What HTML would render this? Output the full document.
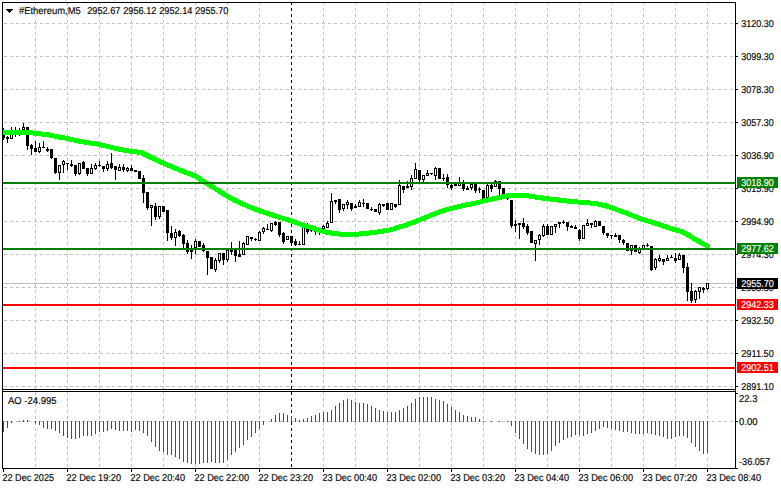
<!DOCTYPE html>
<html><head><meta charset="utf-8"><title>#Ethereum,M5</title>
<style>
html,body{margin:0;padding:0;background:#fff;}
body{width:781px;height:489px;overflow:hidden;position:relative;font-family:"Liberation Sans",sans-serif;}
</style></head><body>
<svg width="781" height="489" viewBox="0 0 781 489" style="position:absolute;left:0;top:0;display:block">
<g shape-rendering="crispEdges">
<line x1="4" y1="23.5" x2="735" y2="23.5" stroke="#c0c0c0" stroke-width="1" stroke-dasharray="3 3"/>
<line x1="4" y1="56.5" x2="735" y2="56.5" stroke="#c0c0c0" stroke-width="1" stroke-dasharray="3 3"/>
<line x1="4" y1="89.5" x2="735" y2="89.5" stroke="#c0c0c0" stroke-width="1" stroke-dasharray="3 3"/>
<line x1="4" y1="122.5" x2="735" y2="122.5" stroke="#c0c0c0" stroke-width="1" stroke-dasharray="3 3"/>
<line x1="4" y1="155.5" x2="735" y2="155.5" stroke="#c0c0c0" stroke-width="1" stroke-dasharray="3 3"/>
<line x1="4" y1="188.5" x2="735" y2="188.5" stroke="#c0c0c0" stroke-width="1" stroke-dasharray="3 3"/>
<line x1="4" y1="221.5" x2="735" y2="221.5" stroke="#c0c0c0" stroke-width="1" stroke-dasharray="3 3"/>
<line x1="4" y1="254.5" x2="735" y2="254.5" stroke="#c0c0c0" stroke-width="1" stroke-dasharray="3 3"/>
<line x1="4" y1="287.5" x2="735" y2="287.5" stroke="#c0c0c0" stroke-width="1" stroke-dasharray="3 3"/>
<line x1="4" y1="320.5" x2="735" y2="320.5" stroke="#c0c0c0" stroke-width="1" stroke-dasharray="3 3"/>
<line x1="4" y1="353.5" x2="735" y2="353.5" stroke="#c0c0c0" stroke-width="1" stroke-dasharray="3 3"/>
<line x1="4" y1="386.5" x2="735" y2="386.5" stroke="#c0c0c0" stroke-width="1" stroke-dasharray="3 3"/>
<line x1="4" y1="421.5" x2="735" y2="421.5" stroke="#c0c0c0" stroke-width="1" stroke-dasharray="3 3"/>
<line x1="35.5" y1="2" x2="35.5" y2="468" stroke="#c0c0c0" stroke-width="1" stroke-dasharray="3 3"/>
<line x1="67.5" y1="2" x2="67.5" y2="468" stroke="#c0c0c0" stroke-width="1" stroke-dasharray="3 3"/>
<line x1="99.5" y1="2" x2="99.5" y2="468" stroke="#c0c0c0" stroke-width="1" stroke-dasharray="3 3"/>
<line x1="131.5" y1="2" x2="131.5" y2="468" stroke="#c0c0c0" stroke-width="1" stroke-dasharray="3 3"/>
<line x1="163.5" y1="2" x2="163.5" y2="468" stroke="#c0c0c0" stroke-width="1" stroke-dasharray="3 3"/>
<line x1="195.5" y1="2" x2="195.5" y2="468" stroke="#c0c0c0" stroke-width="1" stroke-dasharray="3 3"/>
<line x1="227.5" y1="2" x2="227.5" y2="468" stroke="#c0c0c0" stroke-width="1" stroke-dasharray="3 3"/>
<line x1="259.5" y1="2" x2="259.5" y2="468" stroke="#c0c0c0" stroke-width="1" stroke-dasharray="3 3"/>
<line x1="291.5" y1="2" x2="291.5" y2="468" stroke="#c0c0c0" stroke-width="1" stroke-dasharray="3 3"/>
<line x1="323.5" y1="2" x2="323.5" y2="468" stroke="#c0c0c0" stroke-width="1" stroke-dasharray="3 3"/>
<line x1="355.5" y1="2" x2="355.5" y2="468" stroke="#c0c0c0" stroke-width="1" stroke-dasharray="3 3"/>
<line x1="387.5" y1="2" x2="387.5" y2="468" stroke="#c0c0c0" stroke-width="1" stroke-dasharray="3 3"/>
<line x1="419.5" y1="2" x2="419.5" y2="468" stroke="#c0c0c0" stroke-width="1" stroke-dasharray="3 3"/>
<line x1="451.5" y1="2" x2="451.5" y2="468" stroke="#c0c0c0" stroke-width="1" stroke-dasharray="3 3"/>
<line x1="483.5" y1="2" x2="483.5" y2="468" stroke="#c0c0c0" stroke-width="1" stroke-dasharray="3 3"/>
<line x1="515.5" y1="2" x2="515.5" y2="468" stroke="#c0c0c0" stroke-width="1" stroke-dasharray="3 3"/>
<line x1="547.5" y1="2" x2="547.5" y2="468" stroke="#c0c0c0" stroke-width="1" stroke-dasharray="3 3"/>
<line x1="579.5" y1="2" x2="579.5" y2="468" stroke="#c0c0c0" stroke-width="1" stroke-dasharray="3 3"/>
<line x1="611.5" y1="2" x2="611.5" y2="468" stroke="#c0c0c0" stroke-width="1" stroke-dasharray="3 3"/>
<line x1="643.5" y1="2" x2="643.5" y2="468" stroke="#c0c0c0" stroke-width="1" stroke-dasharray="3 3"/>
<line x1="675.5" y1="2" x2="675.5" y2="468" stroke="#c0c0c0" stroke-width="1" stroke-dasharray="3 3"/>
<line x1="707.5" y1="2" x2="707.5" y2="468" stroke="#c0c0c0" stroke-width="1" stroke-dasharray="3 3"/>
<rect x="0" y="390" width="781" height="1" fill="#fff"/>
<rect x="3" y="283" width="732" height="1" fill="#c0c0c0"/>
<rect x="3" y="128" width="1" height="12" fill="#000"/>
<rect x="2" y="131" width="3" height="7" fill="#000"/>
<rect x="7" y="136" width="1" height="7" fill="#000"/>
<rect x="6" y="137" width="3" height="2" fill="#000"/>
<rect x="11" y="127" width="1" height="12" fill="#000"/>
<rect x="10" y="134" width="3" height="5" fill="#000"/>
<rect x="11" y="135" width="1" height="3" fill="#fff"/>
<rect x="15" y="127" width="1" height="10" fill="#000"/>
<rect x="14" y="131" width="3" height="1" fill="#000"/>
<rect x="19" y="128" width="1" height="8" fill="#000"/>
<rect x="18" y="132" width="3" height="1" fill="#000"/>
<rect x="23" y="123" width="1" height="7" fill="#000"/>
<rect x="22" y="127" width="3" height="3" fill="#000"/>
<rect x="23" y="128" width="1" height="1" fill="#fff"/>
<rect x="27" y="127" width="1" height="23" fill="#000"/>
<rect x="26" y="127" width="3" height="19" fill="#000"/>
<rect x="31" y="144" width="1" height="11" fill="#000"/>
<rect x="30" y="145" width="3" height="4" fill="#000"/>
<rect x="35" y="141" width="1" height="11" fill="#000"/>
<rect x="34" y="148" width="3" height="4" fill="#000"/>
<rect x="39" y="143" width="1" height="10" fill="#000"/>
<rect x="38" y="147" width="3" height="5" fill="#000"/>
<rect x="39" y="148" width="1" height="3" fill="#fff"/>
<rect x="43" y="141" width="1" height="7" fill="#000"/>
<rect x="42" y="147" width="3" height="1" fill="#000"/>
<rect x="47" y="147" width="1" height="5" fill="#000"/>
<rect x="46" y="149" width="3" height="2" fill="#000"/>
<rect x="51" y="149" width="1" height="10" fill="#000"/>
<rect x="50" y="149" width="3" height="9" fill="#000"/>
<rect x="55" y="158" width="1" height="16" fill="#000"/>
<rect x="54" y="158" width="3" height="15" fill="#000"/>
<rect x="59" y="165" width="1" height="15" fill="#000"/>
<rect x="58" y="165" width="3" height="8" fill="#000"/>
<rect x="59" y="166" width="1" height="6" fill="#fff"/>
<rect x="63" y="160" width="1" height="13" fill="#000"/>
<rect x="62" y="161" width="3" height="4" fill="#000"/>
<rect x="63" y="162" width="1" height="2" fill="#fff"/>
<rect x="67" y="163" width="1" height="7" fill="#000"/>
<rect x="66" y="163" width="3" height="1" fill="#000"/>
<rect x="71" y="160" width="1" height="7" fill="#000"/>
<rect x="70" y="164" width="3" height="2" fill="#000"/>
<rect x="75" y="165" width="1" height="11" fill="#000"/>
<rect x="74" y="165" width="3" height="9" fill="#000"/>
<rect x="79" y="163" width="1" height="12" fill="#000"/>
<rect x="78" y="163" width="3" height="11" fill="#000"/>
<rect x="79" y="164" width="1" height="9" fill="#fff"/>
<rect x="83" y="161" width="1" height="8" fill="#000"/>
<rect x="82" y="162" width="3" height="7" fill="#000"/>
<rect x="87" y="168" width="1" height="8" fill="#000"/>
<rect x="86" y="168" width="3" height="6" fill="#000"/>
<rect x="91" y="164" width="1" height="10" fill="#000"/>
<rect x="90" y="168" width="3" height="6" fill="#000"/>
<rect x="91" y="169" width="1" height="4" fill="#fff"/>
<rect x="95" y="163" width="1" height="7" fill="#000"/>
<rect x="94" y="165" width="3" height="4" fill="#000"/>
<rect x="95" y="166" width="1" height="2" fill="#fff"/>
<rect x="99" y="161" width="1" height="6" fill="#000"/>
<rect x="98" y="165" width="3" height="1" fill="#000"/>
<rect x="103" y="166" width="1" height="6" fill="#000"/>
<rect x="102" y="166" width="3" height="3" fill="#000"/>
<rect x="107" y="161" width="1" height="10" fill="#000"/>
<rect x="106" y="164" width="3" height="5" fill="#000"/>
<rect x="107" y="165" width="1" height="3" fill="#fff"/>
<rect x="111" y="153" width="1" height="16" fill="#000"/>
<rect x="110" y="163" width="3" height="5" fill="#000"/>
<rect x="115" y="166" width="1" height="14" fill="#000"/>
<rect x="114" y="166" width="3" height="4" fill="#000"/>
<rect x="119" y="164" width="1" height="7" fill="#000"/>
<rect x="118" y="167" width="3" height="4" fill="#000"/>
<rect x="119" y="168" width="1" height="2" fill="#fff"/>
<rect x="123" y="164" width="1" height="8" fill="#000"/>
<rect x="122" y="167" width="3" height="3" fill="#000"/>
<rect x="127" y="167" width="1" height="5" fill="#000"/>
<rect x="126" y="168" width="3" height="3" fill="#000"/>
<rect x="127" y="169" width="1" height="1" fill="#fff"/>
<rect x="131" y="165" width="1" height="6" fill="#000"/>
<rect x="130" y="168" width="3" height="3" fill="#000"/>
<rect x="135" y="170" width="1" height="2" fill="#000"/>
<rect x="134" y="170" width="3" height="2" fill="#000"/>
<rect x="139" y="171" width="1" height="8" fill="#000"/>
<rect x="138" y="171" width="3" height="8" fill="#000"/>
<rect x="143" y="175" width="1" height="28" fill="#000"/>
<rect x="142" y="178" width="3" height="15" fill="#000"/>
<rect x="147" y="192" width="1" height="18" fill="#000"/>
<rect x="146" y="192" width="3" height="16" fill="#000"/>
<rect x="151" y="205" width="1" height="21" fill="#000"/>
<rect x="150" y="205" width="3" height="3" fill="#000"/>
<rect x="151" y="206" width="1" height="1" fill="#fff"/>
<rect x="155" y="203" width="1" height="17" fill="#000"/>
<rect x="154" y="206" width="3" height="11" fill="#000"/>
<rect x="159" y="206" width="1" height="13" fill="#000"/>
<rect x="158" y="206" width="3" height="11" fill="#000"/>
<rect x="159" y="207" width="1" height="9" fill="#fff"/>
<rect x="163" y="206" width="1" height="6" fill="#000"/>
<rect x="162" y="206" width="3" height="6" fill="#000"/>
<rect x="167" y="210" width="1" height="31" fill="#000"/>
<rect x="166" y="210" width="3" height="23" fill="#000"/>
<rect x="171" y="226" width="1" height="14" fill="#000"/>
<rect x="170" y="233" width="3" height="5" fill="#000"/>
<rect x="175" y="229" width="1" height="17" fill="#000"/>
<rect x="174" y="232" width="3" height="6" fill="#000"/>
<rect x="175" y="233" width="1" height="4" fill="#fff"/>
<rect x="179" y="230" width="1" height="7" fill="#000"/>
<rect x="178" y="231" width="3" height="5" fill="#000"/>
<rect x="183" y="234" width="1" height="14" fill="#000"/>
<rect x="182" y="235" width="3" height="9" fill="#000"/>
<rect x="187" y="240" width="1" height="14" fill="#000"/>
<rect x="186" y="243" width="3" height="9" fill="#000"/>
<rect x="191" y="245" width="1" height="14" fill="#000"/>
<rect x="190" y="249" width="3" height="3" fill="#000"/>
<rect x="195" y="239" width="1" height="15" fill="#000"/>
<rect x="194" y="241" width="3" height="7" fill="#000"/>
<rect x="195" y="242" width="1" height="5" fill="#fff"/>
<rect x="199" y="241" width="1" height="6" fill="#000"/>
<rect x="198" y="241" width="3" height="6" fill="#000"/>
<rect x="203" y="243" width="1" height="9" fill="#000"/>
<rect x="202" y="245" width="3" height="6" fill="#000"/>
<rect x="207" y="251" width="1" height="24" fill="#000"/>
<rect x="206" y="251" width="3" height="7" fill="#000"/>
<rect x="211" y="257" width="1" height="12" fill="#000"/>
<rect x="210" y="257" width="3" height="12" fill="#000"/>
<rect x="215" y="258" width="1" height="14" fill="#000"/>
<rect x="214" y="260" width="3" height="10" fill="#000"/>
<rect x="215" y="261" width="1" height="8" fill="#fff"/>
<rect x="219" y="253" width="1" height="10" fill="#000"/>
<rect x="218" y="253" width="3" height="8" fill="#000"/>
<rect x="219" y="254" width="1" height="6" fill="#fff"/>
<rect x="223" y="253" width="1" height="12" fill="#000"/>
<rect x="222" y="253" width="3" height="7" fill="#000"/>
<rect x="227" y="250" width="1" height="12" fill="#000"/>
<rect x="226" y="250" width="3" height="10" fill="#000"/>
<rect x="227" y="251" width="1" height="8" fill="#fff"/>
<rect x="231" y="242" width="1" height="13" fill="#000"/>
<rect x="230" y="250" width="3" height="2" fill="#000"/>
<rect x="235" y="250" width="1" height="12" fill="#000"/>
<rect x="234" y="250" width="3" height="6" fill="#000"/>
<rect x="239" y="241" width="1" height="16" fill="#000"/>
<rect x="238" y="254" width="3" height="3" fill="#000"/>
<rect x="243" y="242" width="1" height="13" fill="#000"/>
<rect x="242" y="243" width="3" height="12" fill="#000"/>
<rect x="243" y="244" width="1" height="10" fill="#fff"/>
<rect x="247" y="236" width="1" height="9" fill="#000"/>
<rect x="246" y="236" width="3" height="9" fill="#000"/>
<rect x="247" y="237" width="1" height="7" fill="#fff"/>
<rect x="251" y="237" width="1" height="4" fill="#000"/>
<rect x="250" y="237" width="3" height="2" fill="#000"/>
<rect x="255" y="238" width="1" height="3" fill="#000"/>
<rect x="254" y="239" width="3" height="1" fill="#000"/>
<rect x="259" y="231" width="1" height="10" fill="#000"/>
<rect x="258" y="232" width="3" height="9" fill="#000"/>
<rect x="259" y="233" width="1" height="7" fill="#fff"/>
<rect x="263" y="227" width="1" height="7" fill="#000"/>
<rect x="262" y="228" width="3" height="4" fill="#000"/>
<rect x="263" y="229" width="1" height="2" fill="#fff"/>
<rect x="267" y="224" width="1" height="6" fill="#000"/>
<rect x="266" y="229" width="3" height="1" fill="#000"/>
<rect x="271" y="223" width="1" height="9" fill="#000"/>
<rect x="270" y="223" width="3" height="8" fill="#000"/>
<rect x="271" y="224" width="1" height="6" fill="#fff"/>
<rect x="275" y="221" width="1" height="5" fill="#000"/>
<rect x="274" y="222" width="3" height="3" fill="#000"/>
<rect x="279" y="222" width="1" height="15" fill="#000"/>
<rect x="278" y="222" width="3" height="13" fill="#000"/>
<rect x="283" y="232" width="1" height="12" fill="#000"/>
<rect x="282" y="233" width="3" height="9" fill="#000"/>
<rect x="287" y="236" width="1" height="4" fill="#000"/>
<rect x="286" y="236" width="3" height="4" fill="#000"/>
<rect x="287" y="237" width="1" height="2" fill="#fff"/>
<rect x="291" y="236" width="1" height="10" fill="#000"/>
<rect x="290" y="236" width="3" height="7" fill="#000"/>
<rect x="295" y="239" width="1" height="7" fill="#000"/>
<rect x="294" y="241" width="3" height="4" fill="#000"/>
<rect x="299" y="241" width="1" height="4" fill="#000"/>
<rect x="298" y="244" width="3" height="1" fill="#000"/>
<rect x="303" y="226" width="1" height="19" fill="#000"/>
<rect x="302" y="226" width="3" height="19" fill="#000"/>
<rect x="303" y="227" width="1" height="17" fill="#fff"/>
<rect x="307" y="223" width="1" height="11" fill="#000"/>
<rect x="306" y="228" width="3" height="4" fill="#000"/>
<rect x="311" y="230" width="1" height="2" fill="#000"/>
<rect x="310" y="230" width="3" height="1" fill="#000"/>
<rect x="315" y="231" width="1" height="4" fill="#000"/>
<rect x="314" y="231" width="3" height="1" fill="#000"/>
<rect x="319" y="232" width="1" height="3" fill="#000"/>
<rect x="318" y="232" width="3" height="1" fill="#000"/>
<rect x="323" y="225" width="1" height="4" fill="#000"/>
<rect x="322" y="226" width="3" height="3" fill="#000"/>
<rect x="323" y="227" width="1" height="1" fill="#fff"/>
<rect x="327" y="221" width="1" height="7" fill="#000"/>
<rect x="326" y="223" width="3" height="5" fill="#000"/>
<rect x="327" y="224" width="1" height="3" fill="#fff"/>
<rect x="331" y="193" width="1" height="30" fill="#000"/>
<rect x="330" y="201" width="3" height="22" fill="#000"/>
<rect x="331" y="202" width="1" height="20" fill="#fff"/>
<rect x="335" y="200" width="1" height="4" fill="#000"/>
<rect x="334" y="200" width="3" height="2" fill="#000"/>
<rect x="339" y="199" width="1" height="14" fill="#000"/>
<rect x="338" y="199" width="3" height="11" fill="#000"/>
<rect x="343" y="204" width="1" height="7" fill="#000"/>
<rect x="342" y="204" width="3" height="5" fill="#000"/>
<rect x="343" y="205" width="1" height="3" fill="#fff"/>
<rect x="347" y="200" width="1" height="9" fill="#000"/>
<rect x="346" y="202" width="3" height="3" fill="#000"/>
<rect x="347" y="203" width="1" height="1" fill="#fff"/>
<rect x="351" y="203" width="1" height="8" fill="#000"/>
<rect x="350" y="203" width="3" height="6" fill="#000"/>
<rect x="355" y="204" width="1" height="4" fill="#000"/>
<rect x="354" y="206" width="3" height="2" fill="#000"/>
<rect x="359" y="200" width="1" height="7" fill="#000"/>
<rect x="358" y="202" width="3" height="5" fill="#000"/>
<rect x="359" y="203" width="1" height="3" fill="#fff"/>
<rect x="363" y="199" width="1" height="8" fill="#000"/>
<rect x="362" y="203" width="3" height="1" fill="#000"/>
<rect x="367" y="203" width="1" height="6" fill="#000"/>
<rect x="366" y="203" width="3" height="6" fill="#000"/>
<rect x="371" y="207" width="1" height="4" fill="#000"/>
<rect x="370" y="209" width="3" height="1" fill="#000"/>
<rect x="375" y="209" width="1" height="3" fill="#000"/>
<rect x="374" y="209" width="3" height="3" fill="#000"/>
<rect x="379" y="203" width="1" height="12" fill="#000"/>
<rect x="378" y="204" width="3" height="9" fill="#000"/>
<rect x="379" y="205" width="1" height="7" fill="#fff"/>
<rect x="383" y="204" width="1" height="3" fill="#000"/>
<rect x="382" y="204" width="3" height="2" fill="#000"/>
<rect x="387" y="203" width="1" height="7" fill="#000"/>
<rect x="386" y="203" width="3" height="7" fill="#000"/>
<rect x="391" y="203" width="1" height="7" fill="#000"/>
<rect x="390" y="203" width="3" height="7" fill="#000"/>
<rect x="391" y="204" width="1" height="5" fill="#fff"/>
<rect x="395" y="204" width="1" height="4" fill="#000"/>
<rect x="394" y="204" width="3" height="3" fill="#000"/>
<rect x="399" y="180" width="1" height="25" fill="#000"/>
<rect x="398" y="185" width="3" height="20" fill="#000"/>
<rect x="399" y="186" width="1" height="18" fill="#fff"/>
<rect x="403" y="186" width="1" height="7" fill="#000"/>
<rect x="402" y="186" width="3" height="4" fill="#000"/>
<rect x="407" y="181" width="1" height="7" fill="#000"/>
<rect x="406" y="186" width="3" height="2" fill="#000"/>
<rect x="411" y="175" width="1" height="15" fill="#000"/>
<rect x="410" y="178" width="3" height="9" fill="#000"/>
<rect x="411" y="179" width="1" height="7" fill="#fff"/>
<rect x="415" y="163" width="1" height="16" fill="#000"/>
<rect x="414" y="169" width="3" height="10" fill="#000"/>
<rect x="415" y="170" width="1" height="8" fill="#fff"/>
<rect x="419" y="170" width="1" height="13" fill="#000"/>
<rect x="418" y="170" width="3" height="10" fill="#000"/>
<rect x="423" y="175" width="1" height="8" fill="#000"/>
<rect x="422" y="175" width="3" height="5" fill="#000"/>
<rect x="423" y="176" width="1" height="3" fill="#fff"/>
<rect x="427" y="170" width="1" height="6" fill="#000"/>
<rect x="426" y="173" width="3" height="3" fill="#000"/>
<rect x="427" y="174" width="1" height="1" fill="#fff"/>
<rect x="431" y="173" width="1" height="2" fill="#000"/>
<rect x="430" y="173" width="3" height="1" fill="#000"/>
<rect x="435" y="167" width="1" height="13" fill="#000"/>
<rect x="434" y="168" width="3" height="8" fill="#000"/>
<rect x="435" y="169" width="1" height="6" fill="#fff"/>
<rect x="439" y="168" width="1" height="11" fill="#000"/>
<rect x="438" y="168" width="3" height="11" fill="#000"/>
<rect x="443" y="174" width="1" height="7" fill="#000"/>
<rect x="442" y="178" width="3" height="1" fill="#000"/>
<rect x="447" y="174" width="1" height="14" fill="#000"/>
<rect x="446" y="177" width="3" height="8" fill="#000"/>
<rect x="451" y="184" width="1" height="6" fill="#000"/>
<rect x="450" y="185" width="3" height="3" fill="#000"/>
<rect x="455" y="184" width="1" height="2" fill="#000"/>
<rect x="454" y="184" width="3" height="2" fill="#000"/>
<rect x="459" y="177" width="1" height="9" fill="#000"/>
<rect x="458" y="183" width="3" height="3" fill="#000"/>
<rect x="459" y="184" width="1" height="1" fill="#fff"/>
<rect x="463" y="180" width="1" height="11" fill="#000"/>
<rect x="462" y="184" width="3" height="5" fill="#000"/>
<rect x="467" y="186" width="1" height="4" fill="#000"/>
<rect x="466" y="188" width="3" height="2" fill="#000"/>
<rect x="471" y="184" width="1" height="6" fill="#000"/>
<rect x="470" y="184" width="3" height="4" fill="#000"/>
<rect x="471" y="185" width="1" height="2" fill="#fff"/>
<rect x="475" y="184" width="1" height="9" fill="#000"/>
<rect x="474" y="184" width="3" height="7" fill="#000"/>
<rect x="479" y="187" width="1" height="6" fill="#000"/>
<rect x="478" y="189" width="3" height="1" fill="#000"/>
<rect x="483" y="190" width="1" height="9" fill="#000"/>
<rect x="482" y="190" width="3" height="9" fill="#000"/>
<rect x="487" y="184" width="1" height="14" fill="#000"/>
<rect x="486" y="185" width="3" height="13" fill="#000"/>
<rect x="487" y="186" width="1" height="11" fill="#fff"/>
<rect x="491" y="183" width="1" height="9" fill="#000"/>
<rect x="490" y="185" width="3" height="4" fill="#000"/>
<rect x="495" y="180" width="1" height="7" fill="#000"/>
<rect x="494" y="181" width="3" height="6" fill="#000"/>
<rect x="495" y="182" width="1" height="4" fill="#fff"/>
<rect x="499" y="181" width="1" height="14" fill="#000"/>
<rect x="498" y="181" width="3" height="8" fill="#000"/>
<rect x="503" y="188" width="1" height="6" fill="#000"/>
<rect x="502" y="188" width="3" height="6" fill="#000"/>
<rect x="507" y="198" width="1" height="2" fill="#000"/>
<rect x="506" y="198" width="3" height="1" fill="#000"/>
<rect x="511" y="200" width="1" height="28" fill="#000"/>
<rect x="510" y="200" width="3" height="26" fill="#000"/>
<rect x="515" y="220" width="1" height="12" fill="#000"/>
<rect x="514" y="224" width="3" height="2" fill="#000"/>
<rect x="519" y="223" width="1" height="16" fill="#000"/>
<rect x="518" y="223" width="3" height="2" fill="#000"/>
<rect x="523" y="218" width="1" height="11" fill="#000"/>
<rect x="522" y="223" width="3" height="4" fill="#000"/>
<rect x="527" y="224" width="1" height="11" fill="#000"/>
<rect x="526" y="226" width="3" height="7" fill="#000"/>
<rect x="531" y="231" width="1" height="12" fill="#000"/>
<rect x="530" y="231" width="3" height="12" fill="#000"/>
<rect x="535" y="240" width="1" height="21" fill="#000"/>
<rect x="534" y="240" width="3" height="4" fill="#000"/>
<rect x="535" y="241" width="1" height="2" fill="#fff"/>
<rect x="539" y="234" width="1" height="11" fill="#000"/>
<rect x="538" y="235" width="3" height="5" fill="#000"/>
<rect x="539" y="236" width="1" height="3" fill="#fff"/>
<rect x="543" y="224" width="1" height="13" fill="#000"/>
<rect x="542" y="226" width="3" height="10" fill="#000"/>
<rect x="543" y="227" width="1" height="8" fill="#fff"/>
<rect x="547" y="224" width="1" height="11" fill="#000"/>
<rect x="546" y="226" width="3" height="9" fill="#000"/>
<rect x="551" y="226" width="1" height="9" fill="#000"/>
<rect x="550" y="226" width="3" height="9" fill="#000"/>
<rect x="551" y="227" width="1" height="7" fill="#fff"/>
<rect x="555" y="224" width="1" height="9" fill="#000"/>
<rect x="554" y="224" width="3" height="3" fill="#000"/>
<rect x="555" y="225" width="1" height="1" fill="#fff"/>
<rect x="559" y="222" width="1" height="6" fill="#000"/>
<rect x="558" y="222" width="3" height="2" fill="#000"/>
<rect x="563" y="220" width="1" height="4" fill="#000"/>
<rect x="562" y="222" width="3" height="1" fill="#000"/>
<rect x="567" y="222" width="1" height="9" fill="#000"/>
<rect x="566" y="222" width="3" height="5" fill="#000"/>
<rect x="571" y="225" width="1" height="3" fill="#000"/>
<rect x="570" y="226" width="3" height="2" fill="#000"/>
<rect x="575" y="225" width="1" height="4" fill="#000"/>
<rect x="574" y="227" width="3" height="2" fill="#000"/>
<rect x="579" y="229" width="1" height="12" fill="#000"/>
<rect x="578" y="230" width="3" height="9" fill="#000"/>
<rect x="583" y="225" width="1" height="14" fill="#000"/>
<rect x="582" y="225" width="3" height="14" fill="#000"/>
<rect x="583" y="226" width="1" height="12" fill="#fff"/>
<rect x="587" y="219" width="1" height="7" fill="#000"/>
<rect x="586" y="223" width="3" height="3" fill="#000"/>
<rect x="587" y="224" width="1" height="1" fill="#fff"/>
<rect x="591" y="223" width="1" height="5" fill="#000"/>
<rect x="590" y="223" width="3" height="2" fill="#000"/>
<rect x="595" y="220" width="1" height="7" fill="#000"/>
<rect x="594" y="221" width="3" height="6" fill="#000"/>
<rect x="595" y="222" width="1" height="4" fill="#fff"/>
<rect x="599" y="221" width="1" height="5" fill="#000"/>
<rect x="598" y="221" width="3" height="5" fill="#000"/>
<rect x="603" y="226" width="1" height="9" fill="#000"/>
<rect x="602" y="226" width="3" height="7" fill="#000"/>
<rect x="607" y="233" width="1" height="5" fill="#000"/>
<rect x="606" y="233" width="3" height="3" fill="#000"/>
<rect x="611" y="235" width="1" height="4" fill="#000"/>
<rect x="610" y="235" width="3" height="1" fill="#000"/>
<rect x="615" y="233" width="1" height="4" fill="#000"/>
<rect x="614" y="235" width="3" height="2" fill="#000"/>
<rect x="619" y="235" width="1" height="8" fill="#000"/>
<rect x="618" y="235" width="3" height="5" fill="#000"/>
<rect x="623" y="239" width="1" height="6" fill="#000"/>
<rect x="622" y="240" width="3" height="3" fill="#000"/>
<rect x="627" y="243" width="1" height="8" fill="#000"/>
<rect x="626" y="243" width="3" height="8" fill="#000"/>
<rect x="631" y="245" width="1" height="10" fill="#000"/>
<rect x="630" y="245" width="3" height="6" fill="#000"/>
<rect x="631" y="246" width="1" height="4" fill="#fff"/>
<rect x="635" y="245" width="1" height="7" fill="#000"/>
<rect x="634" y="245" width="3" height="7" fill="#000"/>
<rect x="639" y="247" width="1" height="7" fill="#000"/>
<rect x="638" y="249" width="3" height="4" fill="#000"/>
<rect x="639" y="250" width="1" height="2" fill="#fff"/>
<rect x="643" y="245" width="1" height="4" fill="#000"/>
<rect x="642" y="245" width="3" height="4" fill="#000"/>
<rect x="643" y="246" width="1" height="2" fill="#fff"/>
<rect x="647" y="243" width="1" height="4" fill="#000"/>
<rect x="646" y="245" width="3" height="1" fill="#000"/>
<rect x="651" y="246" width="1" height="25" fill="#000"/>
<rect x="650" y="246" width="3" height="24" fill="#000"/>
<rect x="655" y="258" width="1" height="12" fill="#000"/>
<rect x="654" y="259" width="3" height="9" fill="#000"/>
<rect x="655" y="260" width="1" height="7" fill="#fff"/>
<rect x="659" y="255" width="1" height="7" fill="#000"/>
<rect x="658" y="258" width="3" height="3" fill="#000"/>
<rect x="659" y="259" width="1" height="1" fill="#fff"/>
<rect x="663" y="259" width="1" height="6" fill="#000"/>
<rect x="662" y="259" width="3" height="3" fill="#000"/>
<rect x="667" y="255" width="1" height="6" fill="#000"/>
<rect x="666" y="258" width="3" height="3" fill="#000"/>
<rect x="667" y="259" width="1" height="1" fill="#fff"/>
<rect x="671" y="255" width="1" height="3" fill="#000"/>
<rect x="670" y="257" width="3" height="1" fill="#000"/>
<rect x="675" y="253" width="1" height="10" fill="#000"/>
<rect x="674" y="258" width="3" height="3" fill="#000"/>
<rect x="679" y="253" width="1" height="7" fill="#000"/>
<rect x="678" y="255" width="3" height="5" fill="#000"/>
<rect x="679" y="256" width="1" height="3" fill="#fff"/>
<rect x="683" y="255" width="1" height="18" fill="#000"/>
<rect x="682" y="255" width="3" height="13" fill="#000"/>
<rect x="687" y="263" width="1" height="38" fill="#000"/>
<rect x="686" y="267" width="3" height="25" fill="#000"/>
<rect x="691" y="283" width="1" height="20" fill="#000"/>
<rect x="690" y="291" width="3" height="10" fill="#000"/>
<rect x="695" y="290" width="1" height="13" fill="#000"/>
<rect x="694" y="291" width="3" height="9" fill="#000"/>
<rect x="695" y="292" width="1" height="7" fill="#fff"/>
<rect x="699" y="287" width="1" height="12" fill="#000"/>
<rect x="698" y="287" width="3" height="5" fill="#000"/>
<rect x="699" y="288" width="1" height="3" fill="#fff"/>
<rect x="703" y="287" width="1" height="6" fill="#000"/>
<rect x="702" y="288" width="3" height="2" fill="#000"/>
<rect x="707" y="283" width="1" height="7" fill="#000"/>
<rect x="706" y="283" width="3" height="6" fill="#000"/>
<rect x="707" y="284" width="1" height="4" fill="#fff"/>
<line x1="291.5" y1="2" x2="291.5" y2="468" stroke="#000" stroke-width="1" stroke-dasharray="3 3"/>
<rect x="291" y="390" width="1" height="1" fill="#fff"/>
<clipPath id="cm"><rect x="3" y="3" width="732" height="386"/></clipPath>
<polyline clip-path="url(#cm)" points="-2,132.45 28,132.45 37,133.4 45,134.4 49.7,135.0 58,136.9 67.4,138.45 80,141.4 99.5,144.45 120,149.4 131.3,151.4 141,152.45 150.8,157.4 160,161.7 163.3,163 179.5,170 195.4,176 200,178.9 210.3,185.5 220.5,192.0 230.8,198.2 235,200.5 247.3,206 259.5,210.8 275,215.8 291.4,221 305.8,226 315,228.9 325.3,232 337,233.9 345.8,234.45 355,234.45 365.3,233.4 373,232.5 380.6,231.5 387.3,230.4 395,228.5 405.3,225.3 419.5,220 435,213.8 443.2,210.6 451.4,208.4 459.6,206.5 467.8,204.5 475,203.3 485.3,200.6 495.5,198.4 503.7,196.5 509,195.5 527,195.5 530,196.2 537.7,197.4 545.4,198.4 553.6,199.5 563.3,200.5 570,201.4 583.8,202.4 593.6,203.4 600.3,204.4 604.4,205.4 608.5,206.5 610,207.2 620.3,210.8 630.5,214.7 640.8,218.8 650,221.6 660.3,224.9 670.5,228.4 675.6,229.8 682.8,231.8 685,233.2 690,236.1 695.4,239.6 705.6,245 707.5,245.9" fill="none" stroke="#00ff00" stroke-width="5" stroke-linejoin="round" stroke-linecap="round"/>
<rect x="3" y="182" width="732" height="2" fill="#008000"/>
<rect x="3" y="248" width="732" height="2" fill="#008000"/>
<rect x="3" y="304" width="732" height="2" fill="#ff0000"/>
<rect x="3" y="367" width="732" height="2" fill="#ff0000"/>
<rect x="3" y="421" width="1" height="11" fill="#008000"/>
<rect x="7" y="421" width="1" height="7" fill="#008000"/>
<rect x="11" y="421" width="1" height="2" fill="#008000"/>
<rect x="19" y="421" width="1" height="1" fill="#008000"/>
<rect x="23" y="420" width="1" height="2" fill="#008000"/>
<rect x="27" y="420" width="1" height="2" fill="#008000"/>
<rect x="35" y="421" width="1" height="2" fill="#ff0000"/>
<rect x="39" y="421" width="1" height="4" fill="#ff0000"/>
<rect x="43" y="421" width="1" height="7" fill="#ff0000"/>
<rect x="47" y="421" width="1" height="8" fill="#ff0000"/>
<rect x="51" y="421" width="1" height="8" fill="#008000"/>
<rect x="55" y="421" width="1" height="10" fill="#ff0000"/>
<rect x="59" y="421" width="1" height="12" fill="#ff0000"/>
<rect x="63" y="421" width="1" height="15" fill="#ff0000"/>
<rect x="67" y="421" width="1" height="17" fill="#ff0000"/>
<rect x="71" y="421" width="1" height="18" fill="#ff0000"/>
<rect x="75" y="421" width="1" height="18" fill="#ff0000"/>
<rect x="79" y="421" width="1" height="17" fill="#008000"/>
<rect x="83" y="421" width="1" height="15" fill="#008000"/>
<rect x="87" y="421" width="1" height="15" fill="#008000"/>
<rect x="91" y="421" width="1" height="15" fill="#008000"/>
<rect x="95" y="421" width="1" height="13" fill="#008000"/>
<rect x="99" y="421" width="1" height="11" fill="#008000"/>
<rect x="103" y="421" width="1" height="11" fill="#ff0000"/>
<rect x="107" y="421" width="1" height="10" fill="#008000"/>
<rect x="111" y="421" width="1" height="8" fill="#008000"/>
<rect x="115" y="421" width="1" height="9" fill="#ff0000"/>
<rect x="119" y="421" width="1" height="10" fill="#ff0000"/>
<rect x="123" y="421" width="1" height="10" fill="#008000"/>
<rect x="127" y="421" width="1" height="10" fill="#ff0000"/>
<rect x="131" y="421" width="1" height="11" fill="#ff0000"/>
<rect x="135" y="421" width="1" height="9" fill="#008000"/>
<rect x="139" y="421" width="1" height="10" fill="#ff0000"/>
<rect x="143" y="421" width="1" height="12" fill="#ff0000"/>
<rect x="147" y="421" width="1" height="15" fill="#ff0000"/>
<rect x="151" y="421" width="1" height="21" fill="#ff0000"/>
<rect x="155" y="421" width="1" height="26" fill="#ff0000"/>
<rect x="159" y="421" width="1" height="30" fill="#ff0000"/>
<rect x="163" y="421" width="1" height="31" fill="#ff0000"/>
<rect x="167" y="421" width="1" height="34" fill="#ff0000"/>
<rect x="171" y="421" width="1" height="34" fill="#ff0000"/>
<rect x="175" y="421" width="1" height="36" fill="#ff0000"/>
<rect x="179" y="421" width="1" height="38" fill="#ff0000"/>
<rect x="183" y="421" width="1" height="41" fill="#ff0000"/>
<rect x="187" y="421" width="1" height="42" fill="#ff0000"/>
<rect x="191" y="421" width="1" height="43" fill="#ff0000"/>
<rect x="195" y="421" width="1" height="43" fill="#008000"/>
<rect x="199" y="421" width="1" height="43" fill="#008000"/>
<rect x="203" y="421" width="1" height="42" fill="#008000"/>
<rect x="207" y="421" width="1" height="42" fill="#ff0000"/>
<rect x="211" y="421" width="1" height="41" fill="#008000"/>
<rect x="215" y="421" width="1" height="42" fill="#ff0000"/>
<rect x="219" y="421" width="1" height="42" fill="#ff0000"/>
<rect x="223" y="421" width="1" height="42" fill="#008000"/>
<rect x="227" y="421" width="1" height="39" fill="#008000"/>
<rect x="231" y="421" width="1" height="34" fill="#008000"/>
<rect x="235" y="421" width="1" height="31" fill="#008000"/>
<rect x="239" y="421" width="1" height="27" fill="#008000"/>
<rect x="243" y="421" width="1" height="24" fill="#008000"/>
<rect x="247" y="421" width="1" height="19" fill="#008000"/>
<rect x="251" y="421" width="1" height="16" fill="#008000"/>
<rect x="255" y="421" width="1" height="12" fill="#008000"/>
<rect x="259" y="421" width="1" height="8" fill="#008000"/>
<rect x="263" y="421" width="1" height="4" fill="#008000"/>
<rect x="271" y="419" width="1" height="3" fill="#008000"/>
<rect x="275" y="415" width="1" height="7" fill="#008000"/>
<rect x="279" y="413" width="1" height="9" fill="#008000"/>
<rect x="283" y="413" width="1" height="9" fill="#ff0000"/>
<rect x="287" y="415" width="1" height="7" fill="#ff0000"/>
<rect x="291" y="416" width="1" height="6" fill="#ff0000"/>
<rect x="295" y="418" width="1" height="4" fill="#ff0000"/>
<rect x="299" y="420" width="1" height="2" fill="#ff0000"/>
<rect x="303" y="419" width="1" height="3" fill="#008000"/>
<rect x="307" y="418" width="1" height="4" fill="#008000"/>
<rect x="311" y="416" width="1" height="6" fill="#008000"/>
<rect x="315" y="415" width="1" height="7" fill="#008000"/>
<rect x="319" y="413" width="1" height="9" fill="#008000"/>
<rect x="323" y="412" width="1" height="10" fill="#008000"/>
<rect x="327" y="412" width="1" height="10" fill="#ff0000"/>
<rect x="331" y="410" width="1" height="12" fill="#008000"/>
<rect x="335" y="406" width="1" height="16" fill="#008000"/>
<rect x="339" y="403" width="1" height="19" fill="#008000"/>
<rect x="343" y="400" width="1" height="22" fill="#008000"/>
<rect x="347" y="399" width="1" height="23" fill="#008000"/>
<rect x="351" y="400" width="1" height="22" fill="#ff0000"/>
<rect x="355" y="402" width="1" height="20" fill="#ff0000"/>
<rect x="359" y="403" width="1" height="19" fill="#ff0000"/>
<rect x="363" y="403" width="1" height="19" fill="#ff0000"/>
<rect x="367" y="404" width="1" height="18" fill="#ff0000"/>
<rect x="371" y="406" width="1" height="16" fill="#ff0000"/>
<rect x="375" y="408" width="1" height="14" fill="#ff0000"/>
<rect x="379" y="410" width="1" height="12" fill="#ff0000"/>
<rect x="383" y="411" width="1" height="11" fill="#ff0000"/>
<rect x="387" y="412" width="1" height="10" fill="#ff0000"/>
<rect x="391" y="412" width="1" height="10" fill="#ff0000"/>
<rect x="395" y="412" width="1" height="10" fill="#008000"/>
<rect x="399" y="410" width="1" height="12" fill="#008000"/>
<rect x="403" y="408" width="1" height="14" fill="#008000"/>
<rect x="407" y="406" width="1" height="16" fill="#008000"/>
<rect x="411" y="403" width="1" height="19" fill="#008000"/>
<rect x="415" y="399" width="1" height="23" fill="#008000"/>
<rect x="419" y="397" width="1" height="25" fill="#008000"/>
<rect x="423" y="397" width="1" height="25" fill="#008000"/>
<rect x="427" y="397" width="1" height="25" fill="#008000"/>
<rect x="431" y="397" width="1" height="25" fill="#ff0000"/>
<rect x="435" y="399" width="1" height="23" fill="#ff0000"/>
<rect x="439" y="400" width="1" height="22" fill="#ff0000"/>
<rect x="443" y="401" width="1" height="21" fill="#ff0000"/>
<rect x="447" y="404" width="1" height="18" fill="#ff0000"/>
<rect x="451" y="407" width="1" height="15" fill="#ff0000"/>
<rect x="455" y="410" width="1" height="12" fill="#ff0000"/>
<rect x="459" y="412" width="1" height="10" fill="#ff0000"/>
<rect x="463" y="415" width="1" height="7" fill="#ff0000"/>
<rect x="467" y="416" width="1" height="6" fill="#ff0000"/>
<rect x="471" y="417" width="1" height="5" fill="#ff0000"/>
<rect x="475" y="417" width="1" height="5" fill="#ff0000"/>
<rect x="479" y="419" width="1" height="3" fill="#ff0000"/>
<rect x="483" y="421" width="1" height="1" fill="#ff0000"/>
<rect x="491" y="421" width="1" height="1" fill="#ff0000"/>
<rect x="499" y="421" width="1" height="1" fill="#ff0000"/>
<rect x="507" y="421" width="1" height="1" fill="#ff0000"/>
<rect x="511" y="421" width="1" height="5" fill="#ff0000"/>
<rect x="515" y="421" width="1" height="12" fill="#ff0000"/>
<rect x="519" y="421" width="1" height="18" fill="#ff0000"/>
<rect x="523" y="421" width="1" height="23" fill="#ff0000"/>
<rect x="527" y="421" width="1" height="28" fill="#ff0000"/>
<rect x="531" y="421" width="1" height="31" fill="#ff0000"/>
<rect x="535" y="421" width="1" height="33" fill="#ff0000"/>
<rect x="539" y="421" width="1" height="34" fill="#ff0000"/>
<rect x="543" y="421" width="1" height="34" fill="#ff0000"/>
<rect x="547" y="421" width="1" height="33" fill="#008000"/>
<rect x="551" y="421" width="1" height="30" fill="#008000"/>
<rect x="555" y="421" width="1" height="25" fill="#008000"/>
<rect x="559" y="421" width="1" height="22" fill="#008000"/>
<rect x="563" y="421" width="1" height="19" fill="#008000"/>
<rect x="567" y="421" width="1" height="17" fill="#008000"/>
<rect x="571" y="421" width="1" height="16" fill="#008000"/>
<rect x="575" y="421" width="1" height="14" fill="#008000"/>
<rect x="579" y="421" width="1" height="14" fill="#ff0000"/>
<rect x="583" y="421" width="1" height="15" fill="#ff0000"/>
<rect x="587" y="421" width="1" height="13" fill="#008000"/>
<rect x="591" y="421" width="1" height="12" fill="#008000"/>
<rect x="595" y="421" width="1" height="10" fill="#008000"/>
<rect x="599" y="421" width="1" height="8" fill="#008000"/>
<rect x="603" y="421" width="1" height="6" fill="#008000"/>
<rect x="607" y="421" width="1" height="7" fill="#ff0000"/>
<rect x="611" y="421" width="1" height="8" fill="#ff0000"/>
<rect x="615" y="421" width="1" height="9" fill="#ff0000"/>
<rect x="619" y="421" width="1" height="10" fill="#ff0000"/>
<rect x="623" y="421" width="1" height="11" fill="#ff0000"/>
<rect x="627" y="421" width="1" height="11" fill="#ff0000"/>
<rect x="631" y="421" width="1" height="12" fill="#ff0000"/>
<rect x="635" y="421" width="1" height="13" fill="#ff0000"/>
<rect x="639" y="421" width="1" height="13" fill="#ff0000"/>
<rect x="643" y="421" width="1" height="13" fill="#008000"/>
<rect x="647" y="421" width="1" height="12" fill="#008000"/>
<rect x="651" y="421" width="1" height="13" fill="#ff0000"/>
<rect x="655" y="421" width="1" height="14" fill="#ff0000"/>
<rect x="659" y="421" width="1" height="15" fill="#ff0000"/>
<rect x="663" y="421" width="1" height="16" fill="#ff0000"/>
<rect x="667" y="421" width="1" height="18" fill="#ff0000"/>
<rect x="671" y="421" width="1" height="18" fill="#008000"/>
<rect x="675" y="421" width="1" height="16" fill="#008000"/>
<rect x="679" y="421" width="1" height="15" fill="#008000"/>
<rect x="683" y="421" width="1" height="15" fill="#008000"/>
<rect x="687" y="421" width="1" height="17" fill="#ff0000"/>
<rect x="691" y="421" width="1" height="22" fill="#ff0000"/>
<rect x="695" y="421" width="1" height="26" fill="#ff0000"/>
<rect x="699" y="421" width="1" height="30" fill="#ff0000"/>
<rect x="703" y="421" width="1" height="33" fill="#ff0000"/>
<rect x="707" y="421" width="1" height="32" fill="#008000"/>
<rect x="2" y="2" width="734" height="1" fill="#000"/>
<rect x="2" y="389" width="734" height="1" fill="#000"/>
<rect x="2" y="391" width="734" height="1" fill="#000"/>
<rect x="2" y="468" width="734" height="1" fill="#000"/>
<rect x="2" y="2" width="1" height="467" fill="#000"/>
<rect x="735" y="2" width="1" height="467" fill="#000"/>
<rect x="0" y="390" width="2" height="1" fill="#fff"/>
<rect x="736" y="23" width="2" height="1" fill="#000"/>
<rect x="736" y="56" width="2" height="1" fill="#000"/>
<rect x="736" y="89" width="2" height="1" fill="#000"/>
<rect x="736" y="122" width="2" height="1" fill="#000"/>
<rect x="736" y="155" width="2" height="1" fill="#000"/>
<rect x="736" y="188" width="2" height="1" fill="#000"/>
<rect x="736" y="221" width="2" height="1" fill="#000"/>
<rect x="736" y="254" width="2" height="1" fill="#000"/>
<rect x="736" y="287" width="2" height="1" fill="#000"/>
<rect x="736" y="320" width="2" height="1" fill="#000"/>
<rect x="736" y="353" width="2" height="1" fill="#000"/>
<rect x="736" y="386" width="2" height="1" fill="#000"/>
<rect x="736" y="393" width="2" height="1" fill="#000"/>
<rect x="736" y="421" width="2" height="1" fill="#000"/>
<rect x="736" y="468" width="2" height="1" fill="#000"/>
<rect x="3" y="469" width="1" height="3" fill="#000"/>
<rect x="67" y="469" width="1" height="3" fill="#000"/>
<rect x="131" y="469" width="1" height="3" fill="#000"/>
<rect x="195" y="469" width="1" height="3" fill="#000"/>
<rect x="259" y="469" width="1" height="3" fill="#000"/>
<rect x="323" y="469" width="1" height="3" fill="#000"/>
<rect x="387" y="469" width="1" height="3" fill="#000"/>
<rect x="451" y="469" width="1" height="3" fill="#000"/>
<rect x="515" y="469" width="1" height="3" fill="#000"/>
<rect x="579" y="469" width="1" height="3" fill="#000"/>
<rect x="643" y="469" width="1" height="3" fill="#000"/>
<rect x="707" y="469" width="1" height="3" fill="#000"/>
<path d="M6 9h7v1h-1v1h-1v1h-1v1h-1v-1h-1v-1h-1v-1h-1z" fill="#000"/>
</g>
<g font-family="Liberation Sans, sans-serif" font-size="10px" text-rendering="geometricPrecision" stroke-width="0.15" style="font-family:'Liberation Sans',sans-serif;font-size:10px">
<text x="741.2" y="27" fill="#000" stroke="#000" textLength="32.7" lengthAdjust="spacingAndGlyphs">3120.30</text>
<text x="741.2" y="60" fill="#000" stroke="#000" textLength="32.7" lengthAdjust="spacingAndGlyphs">3099.30</text>
<text x="741.2" y="93" fill="#000" stroke="#000" textLength="32.7" lengthAdjust="spacingAndGlyphs">3078.30</text>
<text x="741.2" y="126" fill="#000" stroke="#000" textLength="32.7" lengthAdjust="spacingAndGlyphs">3057.30</text>
<text x="741.2" y="159" fill="#000" stroke="#000" textLength="32.7" lengthAdjust="spacingAndGlyphs">3036.90</text>
<text x="741.2" y="192" fill="#000" stroke="#000" textLength="32.7" lengthAdjust="spacingAndGlyphs">3015.90</text>
<text x="741.2" y="225" fill="#000" stroke="#000" textLength="32.7" lengthAdjust="spacingAndGlyphs">2994.90</text>
<text x="741.2" y="258" fill="#000" stroke="#000" textLength="32.7" lengthAdjust="spacingAndGlyphs">2974.30</text>
<text x="741.2" y="291" fill="#000" stroke="#000" textLength="32.7" lengthAdjust="spacingAndGlyphs">2953.30</text>
<text x="741.2" y="324" fill="#000" stroke="#000" textLength="32.7" lengthAdjust="spacingAndGlyphs">2932.50</text>
<text x="741.2" y="357" fill="#000" stroke="#000" textLength="32.7" lengthAdjust="spacingAndGlyphs">2911.50</text>
<text x="741.2" y="390" fill="#000" stroke="#000" textLength="32.7" lengthAdjust="spacingAndGlyphs">2891.10</text>
<text x="739" y="402" fill="#000" stroke="#000" textLength="18.5" lengthAdjust="spacingAndGlyphs">22.3</text>
<text x="739" y="425" fill="#000" stroke="#000" textLength="18.5" lengthAdjust="spacingAndGlyphs">0.00</text>
<text x="739" y="465" fill="#000" stroke="#000" textLength="31" lengthAdjust="spacingAndGlyphs">-36.057</text>
<text x="2.5" y="481" fill="#000" stroke="#000" textLength="51.5" lengthAdjust="spacingAndGlyphs">22 Dec 2025</text>
<text x="66.5" y="481" fill="#000" stroke="#000" textLength="54.5" lengthAdjust="spacingAndGlyphs">22 Dec 19:20</text>
<text x="130.5" y="481" fill="#000" stroke="#000" textLength="54.5" lengthAdjust="spacingAndGlyphs">22 Dec 20:40</text>
<text x="194.5" y="481" fill="#000" stroke="#000" textLength="54.5" lengthAdjust="spacingAndGlyphs">22 Dec 22:00</text>
<text x="258.5" y="481" fill="#000" stroke="#000" textLength="54.5" lengthAdjust="spacingAndGlyphs">22 Dec 23:20</text>
<text x="322.5" y="481" fill="#000" stroke="#000" textLength="54.5" lengthAdjust="spacingAndGlyphs">23 Dec 00:40</text>
<text x="386.5" y="481" fill="#000" stroke="#000" textLength="54.5" lengthAdjust="spacingAndGlyphs">23 Dec 02:00</text>
<text x="450.5" y="481" fill="#000" stroke="#000" textLength="54.5" lengthAdjust="spacingAndGlyphs">23 Dec 03:20</text>
<text x="514.5" y="481" fill="#000" stroke="#000" textLength="54.5" lengthAdjust="spacingAndGlyphs">23 Dec 04:40</text>
<text x="578.5" y="481" fill="#000" stroke="#000" textLength="54.5" lengthAdjust="spacingAndGlyphs">23 Dec 06:00</text>
<text x="642.5" y="481" fill="#000" stroke="#000" textLength="54.5" lengthAdjust="spacingAndGlyphs">23 Dec 07:20</text>
<text x="706.5" y="481" fill="#000" stroke="#000" textLength="54.5" lengthAdjust="spacingAndGlyphs">23 Dec 08:40</text>
<text x="19" y="14" fill="#000" stroke="#000" textLength="61.7" lengthAdjust="spacingAndGlyphs">#Ethereum,M5</text>
<text x="87.3" y="14" fill="#000" stroke="#000" textLength="33" lengthAdjust="spacingAndGlyphs">2952.67</text>
<text x="123.3" y="14" fill="#000" stroke="#000" textLength="33" lengthAdjust="spacingAndGlyphs">2956.12</text>
<text x="159.3" y="14" fill="#000" stroke="#000" textLength="33" lengthAdjust="spacingAndGlyphs">2952.14</text>
<text x="195.3" y="14" fill="#000" stroke="#000" textLength="33" lengthAdjust="spacingAndGlyphs">2955.70</text>
<text x="8" y="404" fill="#000" stroke="#000" textLength="48.5" lengthAdjust="spacingAndGlyphs">AO -24.995</text>
<rect x="737" y="177" width="41" height="11" fill="#008000" shape-rendering="crispEdges"/>
<text x="741.2" y="186" fill="#fff" stroke="#fff" textLength="32.7" lengthAdjust="spacingAndGlyphs">3018.90</text>
<rect x="737" y="243" width="41" height="11" fill="#008000" shape-rendering="crispEdges"/>
<text x="741.2" y="252" fill="#fff" stroke="#fff" textLength="32.7" lengthAdjust="spacingAndGlyphs">2977.62</text>
<rect x="737" y="278" width="41" height="11" fill="#000" shape-rendering="crispEdges"/>
<text x="741.2" y="287" fill="#fff" stroke="#fff" textLength="32.7" lengthAdjust="spacingAndGlyphs">2955.70</text>
<rect x="737" y="299" width="41" height="11" fill="#ff0000" shape-rendering="crispEdges"/>
<text x="741.2" y="308" fill="#fff" stroke="#fff" textLength="32.7" lengthAdjust="spacingAndGlyphs">2942.33</text>
<rect x="737" y="362" width="41" height="11" fill="#ff0000" shape-rendering="crispEdges"/>
<text x="741.2" y="371" fill="#fff" stroke="#fff" textLength="32.7" lengthAdjust="spacingAndGlyphs">2902.51</text>
</g>
</svg>
</body></html>
